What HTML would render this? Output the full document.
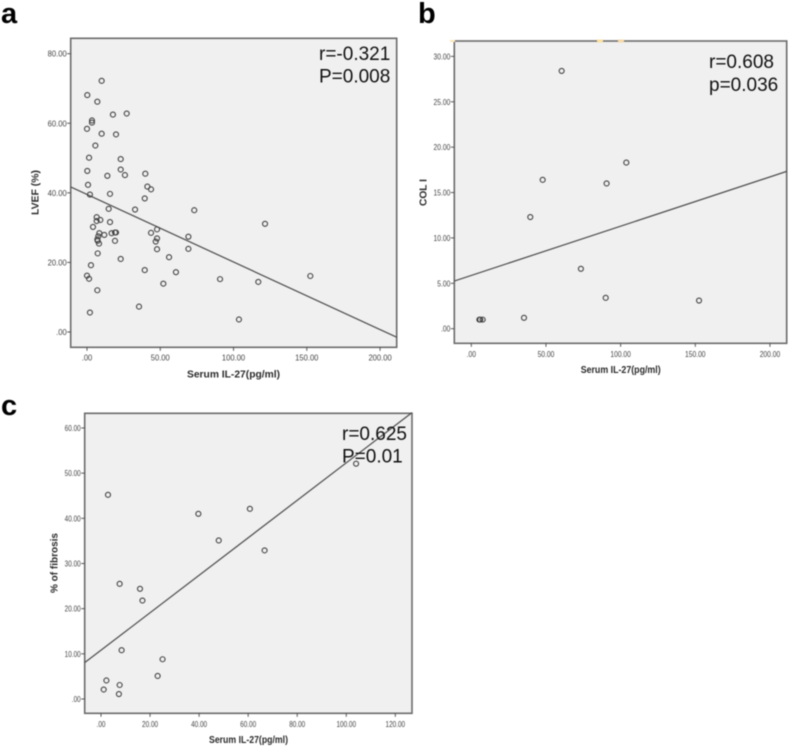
<!DOCTYPE html>
<html>
<head>
<meta charset="utf-8">
<title>Serum IL-27 correlations</title>
<style>
html,body{margin:0;padding:0;background:#fff;}
#chart{display:block;filter:blur(0.45px);font-family:"Liberation Sans",sans-serif;}
</style>
</head>
<body>
<svg id="chart" xmlns="http://www.w3.org/2000/svg" width="789" height="747" viewBox="0 0 789 747"></svg>
<script>
// Panel a data
const aSerum = [10,0.2,7.05,17.7,27.1,3.4,3.4,0,10,19.8,5.7,1.4,23,0.2,23,25.9,13.9,39.8,0.7,41.2,43.7,2,15.7,39.4,14.8,32.8,73.2,6.6,6.6,9.1,15.7,4.1,121.5,8.4,16.8,19.1,19.8,11.8,43.7,47.8,7.7,7.05,7.3,19.1,47.8,46.9,69.2,8.2,7.3,47.8,69.2,23,56,2.7,39.4,60.7,0,1.4,90.8,116.9,152.4,52.1,7.05,35.5,2,103.7];
const aLvef = [72.2,68.1,66.2,62.5,62.8,60.8,60.2,58.4,57,56.8,53.6,50.1,49.7,46.3,46.7,45.1,44.9,45.5,42.3,41.8,41,39.5,39.7,38.4,35.4,35.2,35,33,31.9,32.2,31.6,30.2,31.1,28.4,28.4,28.6,28.6,27.9,28.5,29.5,27.5,26.6,26.2,26.2,26.9,26,27.4,25.4,22.6,23.8,23.9,21,21.5,19.2,17.8,17.2,16.2,15.3,15.2,14.4,16.1,13.9,12,7.3,5.6,3.6];
const aLineX = [-11.1,211.3];
const aLineY = [41.7,-1.5];
const aXTicks = [0,50,100,150,200];
const aYTicks = [0,20,40,60,80];

// Panel b data
const bSerum = [60.5,103.8,47.8,90.6,39.5,73.4,90,152.5,35.3,5.4,6,7.6];
const bCol = [28.4,18.3,16.4,16,12.3,6.6,3.4,3.1,1.2,1,1,1];
const bLineX = [-11.4,211.2];
const bLineY = [5.25,17.33];
const bXTicks = [0,50,100,150,200];
const bYTicks = [0,5,10,15,20,25,30];

// Panel c data
const cSerum = [104,2.85,60.7,39.7,48,66.7,7.6,15.9,16.9,8.4,25.1,23.1,2.2,7.6,1.1,7.3];
const cFibrosis = [52.1,45.2,42.1,41,35.1,32.9,25.5,24.4,21.8,10.8,8.8,5.1,4.1,3.1,2.1,1.1];
const cLineX = [-6.66,126.8];
const cLineY = [8.04,63.4];
const cXTicks = [0,20,40,60,80,100,120];
const cYTicks = [0,10,20,30,40,50,60];

const svg = document.getElementById('chart');
const NS = 'http://www.w3.org/2000/svg';

function make(tag, attrs, parent) {
  const el = document.createElementNS(NS, tag);
  for (const k in attrs) el.setAttribute(k, attrs[k]);
  (parent || svg).appendChild(el);
  return el;
}
function fmt(v) {
  const s = v.toFixed(2);
  return s.startsWith('0.') ? s.slice(1) : s;
}
function tickWidth(s, em) {
  let w = 0;
  for (const ch of s) w += ch === '.' ? 0.278 : 0.556;
  return w * em;
}

function drawPanel(p) {
  const sx = v => p.x0 + v * p.xUnit;
  const sy = v => p.y0 - v * p.yUnit;

  const g = make('g', {});
  
  

  const bg = make('rect', {x:p.left, y:p.top, width:p.right-p.left, height:p.bottom-p.top, fill:'#f0f0f0', stroke:'#6b6b6b', 'stroke-width':1.6}, g);
  
  

  p.xTicks.forEach(v => {
    const t = make('line', {x1:sx(v), x2:sx(v), y1:p.bottom, y2:p.bottom+3.5, stroke:'#555', 'stroke-width':1}, g);
    
    
    const s = fmt(v);
    const l = make('text', {x:sx(v), y:p.xTickBase, 'text-anchor':'middle', 'font-size':8.5, fill:'#444', textLength:tickWidth(s,p.tickEm), lengthAdjust:'spacingAndGlyphs'}, g);
    l.textContent = s;
    
    
  });

  p.yTicks.forEach(v => {
    const t = make('line', {x1:p.left-3.5, x2:p.left, y1:sy(v), y2:sy(v), stroke:'#555', 'stroke-width':1}, g);
    
    
    const s = fmt(v);
    const w = tickWidth(s,p.tickEm);
    const l = make('text', {x:p.left-4-w, y:sy(v)+3, 'font-size':8.5, fill:'#444', textLength:w, lengthAdjust:'spacingAndGlyphs'}, g);
    l.textContent = s;
    
    
  });

  const reg = make('line', {x1:sx(p.lineX[0]), y1:sy(p.lineY[0]), x2:sx(p.lineX[1]), y2:sy(p.lineY[1]), stroke:'#505050', 'stroke-width':1.25}, g);
  
  

  p.xs.forEach((v, i) => {
    const c = make('circle', {cx:sx(v), cy:sy(p.ys[i]), r:2.5, fill:'none', stroke:'#404040', 'stroke-width':1.1}, g);
    
    
  });

  const xt = make('text', {x:p.xTitle[0], y:p.xTitle[1], 'text-anchor':'middle', 'font-size':10, 'font-weight':'bold', fill:'#2a2a2a', textLength:p.xTitle[2], lengthAdjust:'spacingAndGlyphs'}, g);
  xt.textContent = 'Serum IL-27(pg/ml)';
  
  

  const yt = make('text', {transform:'translate(' + p.yTitle[0] + ',' + p.yTitle[1] + ') rotate(-90)', 'text-anchor':'middle', 'font-size':10, 'font-weight':'bold', fill:'#2a2a2a', textLength:p.yTitle[2], lengthAdjust:'spacingAndGlyphs'}, g);
  yt.textContent = p.yLabel;
  
  

  const s1 = make('text', {x:p.statX, y:p.statY[0], 'font-size':19, fill:'#111'}, g);
  s1.textContent = p.stat[0];
  
  

  const s2 = make('text', {x:p.statX, y:p.statY[1], 'font-size':19, fill:'#111'}, g);
  s2.textContent = p.stat[1];
  
  

  const letter = make('text', {x:p.letter[1], y:p.letter[2], 'font-size':29, 'font-weight':'bold', fill:'#000'}, g);
  letter.textContent = p.letter[0];
  
  
}

drawPanel({
  name:'panel-a', left:70.7, right:396.7, top:38.3, bottom:347.3,
  x0:87, xUnit:1.4653, y0:332, yUnit:3.479,
  xs:aSerum, ys:aLvef, lineX:aLineX, lineY:aLineY, xTicks:aXTicks, yTicks:aYTicks,
  tickEm:7.6, xTickBase:360.5,
  xTitle:[233.5,377.5,93], yTitle:[38.7,192.5,45], yLabel:'LVEF (%)',
  stat:['r=-0.321','P=0.008'], statX:319, statY:[60,82.5], letter:['a',1,23]
});

drawPanel({
  name:'panel-b', left:454.3, right:786.7, top:41, bottom:343.3,
  x0:471.3, xUnit:1.4933, y0:328.7, yUnit:9.077,
  xs:bSerum, ys:bCol, lineX:bLineX, lineY:bLineY, xTicks:bXTicks, yTicks:bYTicks,
  tickEm:6.7, xTickBase:357,
  xTitle:[620.7,373,80], yTitle:[426.7,192.5,27], yLabel:'COL I',
  stat:['r=0.608','p=0.036'], statX:709, statY:[68,91], letter:['b',418,23]
});

drawPanel({
  name:'panel-c', left:84.7, right:412, top:413.3, bottom:713.3,
  x0:101, xUnit:2.4527, y0:699, yUnit:4.517,
  xs:cSerum, ys:cFibrosis, lineX:cLineX, lineY:cLineY, xTicks:cXTicks, yTicks:cYTicks,
  tickEm:6.4, xTickBase:727,
  xTitle:[248.5,743,79], yTitle:[57.3,563,60], yLabel:'% of fibrosis',
  stat:['r=0.625','P=0.01'], statX:342, statY:[440,462.5], letter:['c',1,415]
});

// Pale orange compression artefacts along panel b's frame
const spotA = make('rect', {x:450, y:40, width:5, height:2, fill:'#fbe6b8'});


const spotB = make('rect', {x:597, y:39.5, width:6, height:3, fill:'#fbe0a0'});


const spotC = make('rect', {x:618, y:39.5, width:6, height:3, fill:'#f6d9a8'});


</script>
</body>
</html>
